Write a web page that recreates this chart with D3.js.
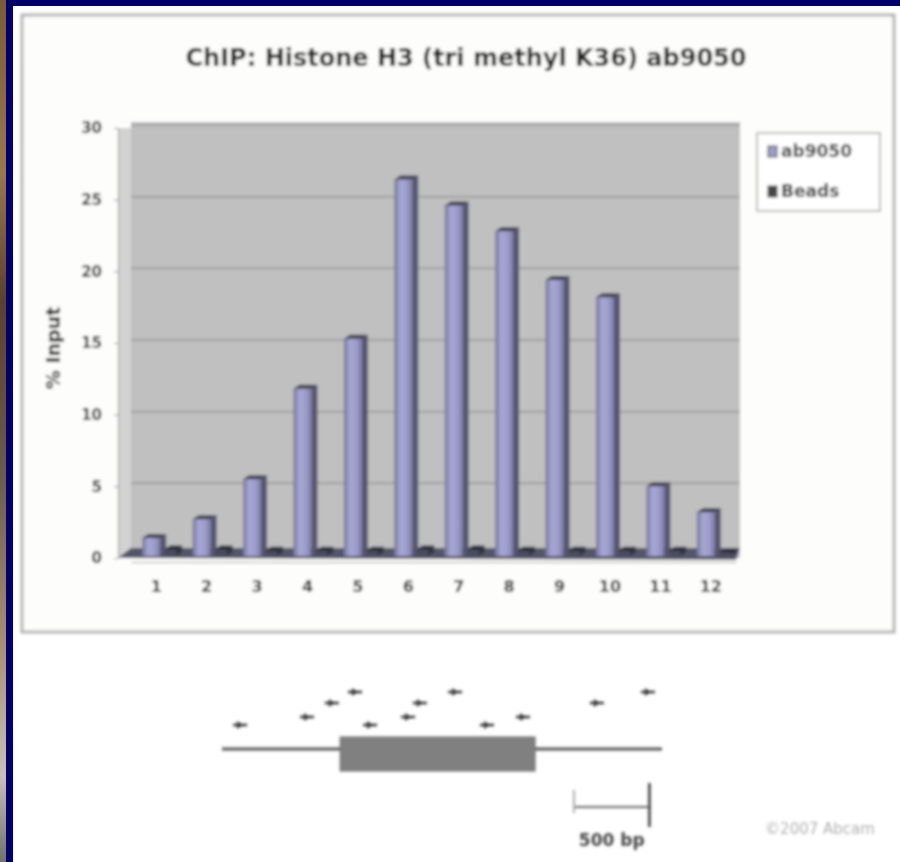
<!DOCTYPE html>
<html><head><meta charset="utf-8">
<script src="https://cdn.jsdelivr.net/npm/d3@7/dist/d3.min.js"></script>
<style>body{margin:0;background:#fff}svg{display:block}</style>
</head><body>
<svg id="c" width="900" height="862"></svg>
<script>
const categories = ["1","2","3","4","5","6","7","8","9","10","11","12"];
const seriesNames = ["ab9050","Beads"];
const ab9050 = [1.4,2.7,5.5,11.8,15.3,26.4,24.6,22.8,19.4,18.2,5.0,3.2];
const beads  = [0.6,0.6,0.5,0.5,0.5,0.6,0.6,0.5,0.5,0.5,0.5,0.4];
const yTicks = [0,5,10,15,20,25,30];
const title = "ChIP: Histone H3 (tri methyl K36) ab9050";
const yLabel = "% Input";
// gene diagram (bp coordinates)
const geneSpan = [0,1750];
const exonSpan = [470,1245];
const primerPos   = [72,338,437,529,589,740,787,927,1054,1197,1491,1694];
const primerLevel = [0,1,2,3,0,1,2,3,0,1,2,3];
const scaleBar = [1400,1700];
const scaleLabel = "500 bp";
const credit = "©2007 Abcam";

const FONT = "DejaVu Sans, Verdana, sans-serif";
const svg = d3.select("#c");
const defs = svg.append("defs");
defs.append("filter").attr("id","blur").attr("x",-0.05).attr("y",-0.05).attr("width",1.1).attr("height",1.1)
  .append("feGaussianBlur").attr("stdDeviation",1.7);
const lg = defs.append("linearGradient").attr("id","strip").attr("x1",0).attr("x2",0).attr("y1",0).attr("y2",1);
[["0%","#7b5a38"],["20%","#9a7650"],["35%","#5a4030"],["55%","#6a5a50"],["75%","#a89078"],["90%","#c8c0bc"],["100%","#707070"]]
  .forEach(s=>lg.append("stop").attr("offset",s[0]).attr("stop-color",s[1]));
const bg = defs.append("linearGradient").attr("id","barFront").attr("x1",0).attr("x2",1).attr("y1",0).attr("y2",0);
[["0%","#74749e"],["35%","#a8a8d6"],["70%","#9c9cca"],["100%","#7a7aa4"]]
  .forEach(s=>bg.append("stop").attr("offset",s[0]).attr("stop-color",s[1]));

// slide frame
svg.append("rect").attr("x",0).attr("y",0).attr("width",900).attr("height",862).attr("fill","#fff");
svg.append("rect").attr("x",0).attr("y",0).attr("width",900).attr("height",6).attr("fill","#000066");
svg.append("rect").attr("x",0).attr("y",0).attr("width",6).attr("height",862).attr("fill","url(#strip)");
svg.append("rect").attr("x",6).attr("y",0).attr("width",7).attr("height",862).attr("fill","#000066");

const g = svg.append("g").attr("filter","url(#blur)");
// chart panel
g.append("rect").attr("x",22).attr("y",15).attr("width",872).attr("height",617)
  .attr("fill","#fdfdfc").attr("stroke","#b4b4b4").attr("stroke-width",3);

const y = d3.scaleLinear().domain([0,30]).range([558,128]);
const x = d3.scaleBand().domain(categories).range([131,736]).paddingInner(0).paddingOuter(0);

// plot area
g.append("rect").attr("x",131).attr("y",122).attr("width",609).attr("height",436).attr("fill","#c0c0c0");
g.append("rect").attr("x",118).attr("y",128).attr("width",13).attr("height",430).attr("fill","#d2d2d2");
// floor
g.append("path").attr("d",`M118,558 L131,548 L740,548 L736,560 Z`).attr("fill","#55556a");
// gridlines
g.selectAll("line.grid").data(yTicks.slice(1)).join("line")
  .attr("x1",131).attr("x2",740).attr("y1",d=>y(d)-3).attr("y2",d=>y(d)-3)
  .attr("stroke","#949494").attr("stroke-width",1.5);
// y axis
const ya = g.append("g").attr("transform","translate(118,0)")
  .call(d3.axisLeft(y).tickValues(yTicks).tickSize(4).tickPadding(12));
ya.select(".domain").attr("stroke","#888");
ya.selectAll("text").attr("font-family",FONT).attr("font-size",15).attr("font-weight","bold").attr("fill","#222");
ya.selectAll(".tick line").attr("stroke","#888");
// x axis
const xa = g.append("g").attr("transform","translate(0,562)")
  .call(d3.axisBottom(x).tickSize(0).tickPadding(19));
xa.select(".domain").attr("stroke","#999");
xa.selectAll("text").attr("font-family",FONT).attr("font-size",16).attr("font-weight","bold").attr("fill","#222");

// bars
function bar3d(sel, x0, w, v, front, side, top){
  const y0 = y(v), yb = y(0)-2, d = 6;
  sel.append("rect").attr("x",x0).attr("y",y0).attr("width",w).attr("height",Math.max(0,yb-y0)).attr("fill",front);
  sel.append("path").attr("d",`M${x0+w},${y0} L${x0+w+d},${y0-4} L${x0+w+d},${yb-4} L${x0+w},${yb} Z`).attr("fill",side);
  sel.append("path").attr("d",`M${x0},${y0} L${x0+d},${y0-4} L${x0+w+d},${y0-4} L${x0+w},${y0} Z`).attr("fill",top);
}
categories.forEach((c,i)=>{
  const bx = x(c)+x.bandwidth()/2 - 14;
  const gg = g.append("g");
  bar3d(gg, bx, 18, ab9050[i], "url(#barFront)", "#55556f", "#3c3c50");
  bar3d(gg, bx+22, 12, beads[i], "#4c4c5e", "#303040", "#262634");
});

// title & labels
g.append("text").attr("x",466).attr("y",66).attr("text-anchor","middle")
  .attr("font-family",FONT).attr("font-weight","bold").attr("font-size",24).attr("fill","#1a1a1a").text(title);
g.append("text").attr("transform","translate(60,348) rotate(-90)").attr("text-anchor","middle")
  .attr("font-family",FONT).attr("font-weight","bold").attr("font-size",19).attr("fill","#1a1a1a").text(yLabel);

// legend
const leg = g.append("g");
leg.append("rect").attr("x",757).attr("y",133).attr("width",123).attr("height",78).attr("fill","#fff").attr("stroke","#bbb").attr("stroke-width",2);
seriesNames.forEach((s,i)=>{
  const yy = 153 + i*40;
  leg.append("rect").attr("x",768).attr("y",yy-7).attr("width",9).attr("height",11).attr("fill",i?"#444":"#9c9cc8").attr("stroke","#444");
  leg.append("text").attr("x",781).attr("y",yy+4).attr("font-family",FONT).attr("font-size",17).attr("font-weight","bold").attr("fill","#333").text(s);
});

// gene diagram
const gx = d3.scaleLinear().domain(geneSpan).range([222,662]);
const dg = g.append("g");
dg.append("line").attr("x1",gx(geneSpan[0])).attr("x2",gx(geneSpan[1])).attr("y1",749).attr("y2",749).attr("stroke","#555").attr("stroke-width",3);
dg.append("rect").attr("x",gx(exonSpan[0])).attr("y",737).attr("width",gx(exonSpan[1])-gx(exonSpan[0])).attr("height",34).attr("fill","#808080").attr("stroke","#666");
const levels = [725,717,703,692];
primerPos.forEach((p,i)=>{
  const px = gx(p), py = levels[primerLevel[i]];
  dg.append("line").attr("x1",px-7).attr("x2",px+7).attr("y1",py).attr("y2",py).attr("stroke","#333").attr("stroke-width",2.5);
  dg.append("path").attr("d",`M${px-3},${py-3} L${px+1},${py} L${px-3},${py+3}`).attr("fill","none").attr("stroke","#333").attr("stroke-width",2);
});
// scale bar
dg.append("line").attr("x1",gx(scaleBar[0])).attr("x2",gx(scaleBar[1])).attr("y1",807).attr("y2",807).attr("stroke","#666").attr("stroke-width",2);
dg.append("line").attr("x1",gx(scaleBar[0])).attr("x2",gx(scaleBar[0])).attr("y1",790).attr("y2",813).attr("stroke","#aaa").attr("stroke-width",2);
dg.append("line").attr("x1",gx(scaleBar[1])).attr("x2",gx(scaleBar[1])).attr("y1",783).attr("y2",827).attr("stroke","#333").attr("stroke-width",2.5);
dg.append("text").attr("x",(gx(scaleBar[0])+gx(scaleBar[1]))/2).attr("y",846).attr("text-anchor","middle")
  .attr("font-family",FONT).attr("font-size",17).attr("font-weight","bold").attr("fill","#444").text(scaleLabel);
g.append("text").attr("x",820).attr("y",834).attr("text-anchor","middle")
  .attr("font-family",FONT).attr("font-size",15).attr("fill","#b0b0b0").text(credit);
</script>
</body></html>
